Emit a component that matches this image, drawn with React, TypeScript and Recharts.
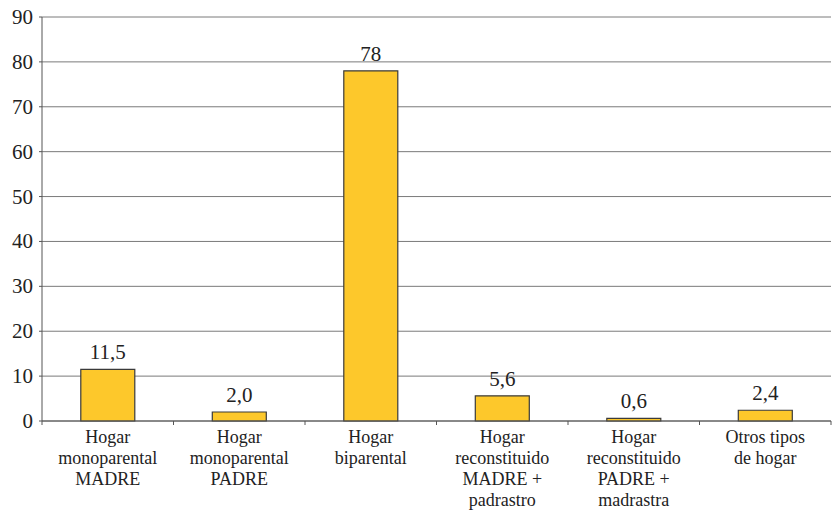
import React, { useEffect, useRef } from 'react';
import { BarChart, Bar, XAxis, YAxis, CartesianGrid, LabelList } from 'recharts';

const categories = [
  'Hogar|monoparental|MADRE',
  'Hogar|monoparental|PADRE',
  'Hogar|biparental',
  'Hogar|reconstituido|MADRE +|padrastro',
  'Hogar|reconstituido|PADRE +|madrastra',
  'Otros tipos|de hogar',
];
const values = [11.5, 2.0, 78, 5.6, 0.6, 2.4];
const valueLabels = ['11,5', '2,0', '78', '5,6', '0,6', '2,4'];
const yTicks = [0, 10, 20, 30, 40, 50, 60, 70, 80, 90];

const data = categories.map((c, i) => ({ name: c, value: values[i], label: valueLabels[i] }));

const W = 837;
const H = 512;
const LEFT = 42;
const RIGHT = 6;
const BAND = (W - LEFT - RIGHT) / categories.length;
const FONT = "'Liberation Serif', serif";

const CategoryTick = (props: any) => {
  const { x, y, payload } = props;
  const lines: string[] = String(payload.value).split('|');
  const left = x - BAND / 2;
  return (
    <g>
      <line x1={left} y1={y - 8} x2={left} y2={y - 4} stroke="#555" strokeWidth={1} />
      {payload.index === categories.length - 1 && (
        <line x1={left + BAND} y1={y - 8} x2={left + BAND} y2={y - 4} stroke="#555" strokeWidth={1} />
      )}
      {lines.map((l, i) => (
        <text key={i} x={x} y={y + 14 + i * 21} textAnchor="middle" fontSize={18} fill="#222" fontFamily={FONT}>
          {l}
        </text>
      ))}
    </g>
  );
};

const ValueLabel = (props: any) => {
  const { x, y, width, value } = props;
  return (
    <text x={x + width / 2} y={y - 10} textAnchor="middle" fontSize={21} fill="#222" fontFamily={FONT}>
      {value}
    </text>
  );
};

const YTick = (props: any) => {
  const { x, y, payload } = props;
  return (
    <text x={x} y={y + 7} textAnchor="end" fontSize={21} fill="#222" fontFamily={FONT}>
      {payload.value}
    </text>
  );
};

export default function App() {
  const ref = useRef<HTMLDivElement>(null);
  useEffect(() => {
    const apply = () => {
      ref.current?.querySelectorAll('text, tspan').forEach((el: any) => {
        el.style.setProperty('font-family', FONT, 'important');
      });
    };
    apply();
    const t = setTimeout(apply, 50);
    return () => clearTimeout(t);
  });
  return (
    <div ref={ref} style={{ position: 'absolute', left: 0, top: 0, width: W, height: H, background: '#fff', fontFamily: FONT }}>
      <BarChart width={W} height={H} data={data} margin={{ top: 17, right: RIGHT, bottom: 0, left: 0 }} barCategoryGap="29.5%">
        <CartesianGrid vertical={false} stroke="#7a7a7a" strokeWidth={1} />
        <XAxis
          dataKey="name"
          height={91}
          tickLine={false}
          axisLine={{ stroke: '#555' }}
          tick={<CategoryTick />}
          interval={0}
        />
        <YAxis
          width={LEFT}
          domain={[0, 90]}
          ticks={yTicks}
          tickSize={3}
          tickMargin={6}
          tickLine={{ stroke: '#555' }}
          axisLine={{ stroke: '#555' }}
          tick={<YTick />}
        />
        <Bar dataKey="value" fill="#FDC82B" stroke="#3a3a3a" strokeWidth={1.2} isAnimationActive={false}>
          <LabelList dataKey="label" content={<ValueLabel />} />
        </Bar>
      </BarChart>
    </div>
  );
}
